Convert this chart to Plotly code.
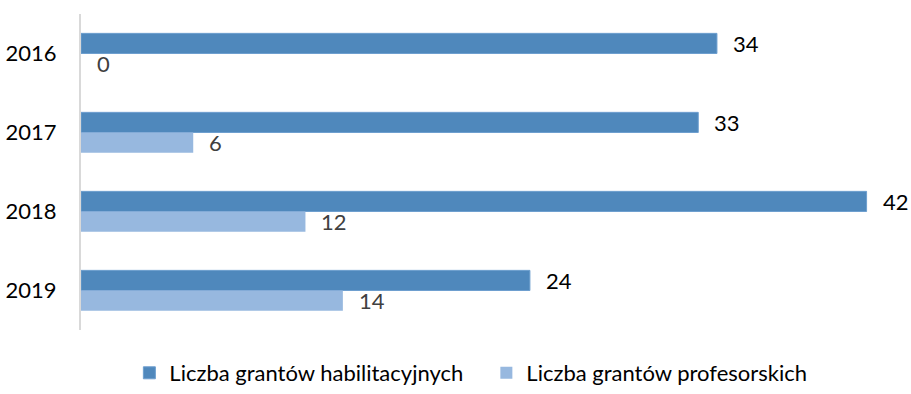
import plotly.graph_objects as go

years = ["2016", "2017", "2018", "2019"]
habilitacyjne = [34, 33, 42, 24]
profesorskie = [0, 6, 12, 14]
series_names = ["Liczba grantów habilitacyjnych", "Liczba grantów profesorskich"]

dark = "#4F88BC"
light = "#97B8DF"
font_family = "Lato, 'Open Sans', sans-serif"
fs = 22

fig = go.Figure()
fig.add_trace(go.Bar(
    y=years, x=habilitacyjne, orientation="h", name=series_names[0],
    marker=dict(color=dark, line=dict(color="#6E9FCF", width=1)),
))
fig.add_trace(go.Bar(
    y=years, x=profesorskie, orientation="h", name=series_names[1],
    marker=dict(color=light, line=dict(width=0)),
))

# value labels placed just past the end of each bar
annotations = []
for i, y in enumerate(years):
    annotations.append(dict(
        x=habilitacyjne[i], y=i, xref="x", yref="y", text=str(habilitacyjne[i]),
        showarrow=False, xanchor="left", xshift=14, yshift=10,
        font=dict(size=fs, color="#000000", family=font_family),
    ))
    annotations.append(dict(
        x=profesorskie[i], y=i, xref="x", yref="y", text=str(profesorskie[i]),
        showarrow=False, xanchor="left", xshift=14, yshift=-10,
        font=dict(size=fs, color="#404040", family=font_family),
    ))

fig.update_layout(
    width=911, height=394,
    margin=dict(l=81, r=7, t=14, b=64),
    paper_bgcolor="white", plot_bgcolor="white",
    barmode="group", bargap=0.49, bargroupgap=0,
    font=dict(family=font_family, size=fs, color="#000000"),
    annotations=annotations,
    legend=dict(
        orientation="h", xref="container", x=0.142, xanchor="left",
        yref="container", y=0.0, yanchor="bottom",
        font=dict(size=fs, color="#000000", family=font_family),
        itemwidth=30, tracegroupgap=0, entrywidth=312,
    ),
    xaxis=dict(range=[0, 44], showgrid=False, zeroline=False,
               showticklabels=False, showline=False),
    yaxis=dict(type="category", categoryorder="array", categoryarray=years,
               range=[3.5, -0.5], showline=True,
               linecolor="#D9D9D9", linewidth=2, ticks="",
               ticklabelstandoff=18,
               tickfont=dict(size=fs, color="#000000", family=font_family)),
)

fig.write_html("out.html")
